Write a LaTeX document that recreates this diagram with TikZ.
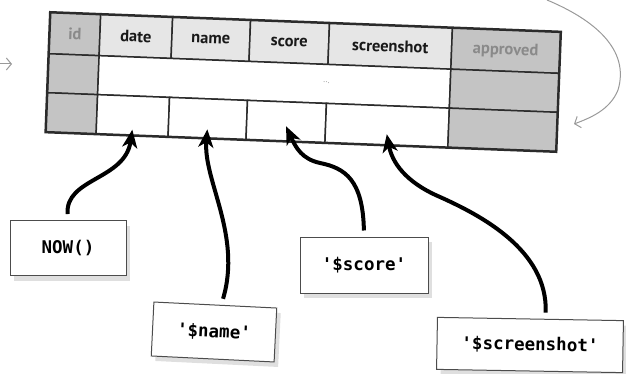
\documentclass[tikz,border=0pt]{standalone}
\usepackage{fontspec}
\setmainfont{PT Sans}
\newfontfamily\lblfont{DejaVu Sans Mono}[Ligatures=TeXOff]
\usetikzlibrary{arrows.meta,shadows,calc}
\definecolor{hdr}{HTML}{E6E6E6}
\definecolor{keycol}{HTML}{C4C4C4}
\definecolor{keytxt}{HTML}{8A8A8A}
\definecolor{ln}{HTML}{2B2B2B}
\tikzset{
 cell/.style={draw=ln, line width=1.5pt, anchor=north west, inner sep=0pt,
   font=\bfseries\fontsize{16.5}{16.5}\selectfont, text=black!90},
 hcell/.style={cell, fill=hdr},
 kcell/.style={cell, fill=keycol, text=keytxt},
 wcell/.style={cell, fill=white},
 valbox/.style={draw=black!70, line width=1pt, fill=white, inner sep=0pt,
   font=\lblfont\bfseries\fontsize{17.5}{17.5}\selectfont,
   drop shadow={shadow xshift=4pt, shadow yshift=-5pt, opacity=0.25}},
 feed/.style={line width=4pt, black, -{Stealth[length=18pt,width=15pt,inset=5pt]}, shorten <=6pt},
 hint/.style={line width=1pt, gray!80, -{Straight Barb[length=5pt,width=12pt]}},
}
\begin{document}
\begin{tikzpicture}[x=1pt,y=-1pt]
\useasboundingbox (0,0) rectangle (626,374);
\begin{scope}[shift={(50,12)}, rotate=-2.2, transform shape]
 % header
 \node[kcell, minimum width=50pt,  minimum height=41pt] (hid)    at (0,0)   {id};
 \node[hcell, minimum width=72pt,  minimum height=41pt] (hdate)  at (50,0)  {date};
 \node[hcell, minimum width=78pt,  minimum height=41pt] (hname)  at (122,0) {name};
 \node[hcell, minimum width=79pt,  minimum height=41pt] (hscore) at (200,0) {score};
 \node[hcell, minimum width=123pt, minimum height=41pt] (hshot)  at (279,0) {screenshot};
 \node[kcell, minimum width=108pt, minimum height=41pt] (happ)   at (402,0) {approved};
 % row 2
 \node[kcell, minimum width=50pt,  minimum height=39pt] (rid2)  at (0,41)   {};
 \node[wcell, minimum width=352pt, minimum height=39pt] (rdots) at (50,41)  {};
 \node[kcell, minimum width=108pt, minimum height=39pt] (rapp2) at (402,41) {};
 % row 3
 \node[kcell, minimum width=50pt,  minimum height=39pt] (rid3)   at (0,80)   {};
 \node[wcell, minimum width=72pt,  minimum height=39pt] (date3)  at (50,80)  {};
 \node[wcell, minimum width=78pt,  minimum height=39pt] (name3)  at (122,80) {};
 \node[wcell, minimum width=79pt,  minimum height=39pt] (score3) at (200,80) {};
 \node[wcell, minimum width=123pt, minimum height=39pt] (shot3)  at (279,80) {};
 \node[kcell, minimum width=108pt, minimum height=39pt] (rapp3)  at (402,80) {};
 \node[font=\fontsize{8}{8}\selectfont, text=gray] (dots) at (279,60) {...};
 \draw[ln, line width=2pt] (hid.north west) -- (happ.north east) -- (rapp3.south east) -- (rid3.south west) -- cycle;
\end{scope}

\node[valbox, minimum width=116pt, minimum height=55pt] (now) at (68,248) {NOW()};
\node[valbox, minimum width=123pt, minimum height=54pt, rotate=-2.8] (nameval) at (214,332) {'\$name'};
\node[valbox, minimum width=128pt, minimum height=56pt] (scoreval) at (364,265) {'\$score'};
\node[valbox, minimum width=186pt, minimum height=52pt, rotate=-1] (shotval) at (530,345) {'\$screenshot'};

\draw[feed] (now.north) .. controls (65,178) and (125,180) .. ($(date3.south)!0.15!(date3.north)$);
\draw[feed] ([xshift=6pt]nameval.north) .. controls (242,235) and (203,180) .. ($(name3.south)!0.23!(name3.north)$);
\draw[feed] (scoreval.north) .. controls (363,180) and (345,168) .. (320,163) .. controls (302,159) and (296,148) .. ($(score3.south)!0.38!(score3.north)$);
\draw[feed] ([xshift=15pt]shotval.north) .. controls (548,250) and (480,215) .. (440,197) .. controls (405,182) and (392,162) .. ($(shot3.south)!0.28!(shot3.north)$);

\coordinate (lin) at (0,64);
\coordinate (lout) at (12,64);
\draw[hint] (lin) -- (lout);
\coordinate (rs) at (547,0);
\coordinate (re) at (574,124);
\draw[hint] (rs) .. controls (595,20) and (630,50) .. (618,90) .. controls (610,110) and (590,118) .. (re);
\end{tikzpicture}
\end{document}
